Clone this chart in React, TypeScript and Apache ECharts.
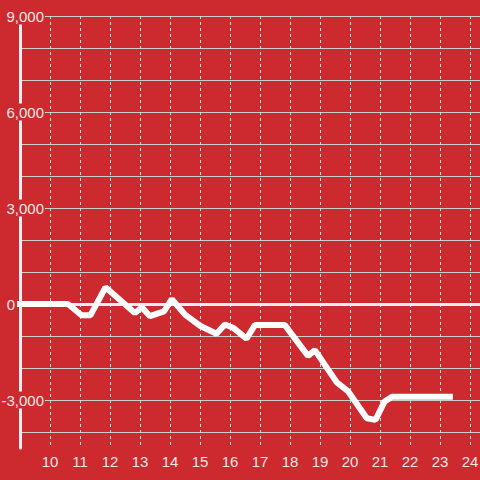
import React, { useEffect, useRef } from "react";
import * as echarts from "echarts";

const RED = "#cc2a2f";
const xValues = [9, 10.6, 11.05, 11.35, 11.85, 12.83, 13.06, 13.33, 13.8, 14.06, 14.5, 15.0, 15.55, 15.83, 16.1, 16.55, 16.83, 17.83, 18.6, 18.83, 19.56, 19.93, 20.56, 20.85, 21.15, 21.4, 23.33];
const yValues = [0, 0, -350, -350, 520, -280, -100, -380, -230, 150, -330, -680, -930, -640, -740, -1080, -660, -660, -1620, -1440, -2450, -2720, -3570, -3620, -3050, -2900, -2900];
const yLabelValues = [-3000, 3000, 6000, 9000];
const xMin = 9;
const xMax = 24.3333;
const yMin = -4500;
const yMax = 9000;

export default function App() {
  const ref = useRef<HTMLDivElement>(null);
  useEffect(() => {
    if (!ref.current) return;
    const chart = echarts.init(ref.current, null, { renderer: "svg" });
    const font = "Liberation Sans";
    chart.setOption({
      animation: false,
      backgroundColor: RED,
      grid: { left: 20, right: 0, top: 16, bottom: 32, containLabel: false, outerBoundsMode: "none" },
      xAxis: [
        {
          type: "value",
          min: xMin,
          max: xMax,
          interval: 1,
          axisLine: { show: false, onZero: false },
          axisTick: { show: false },
          splitLine: {
            show: true,
            showMinLine: false,
            showMaxLine: false,
            lineStyle: { color: "#dddddd", width: 1, type: [3, 3] },
          },
          axisLabel: {
            margin: 6,
            color: "#f6e4e4",
            fontSize: 15,
            fontFamily: font,
            formatter: (v: number) => (v >= 10 && Math.abs(v - Math.round(v)) < 1e-6 ? String(Math.round(v)) : ""),
          },
        },
        {
          type: "value",
          min: xMin,
          max: xMax,
          position: "bottom",
          axisLine: { show: true, onZero: true, lineStyle: { color: "#eeeeee", width: 3 } },
          axisTick: { show: false },
          axisLabel: { show: false },
          splitLine: { show: false },
        },
      ],
      yAxis: [
        {
          type: "value",
          min: yMin,
          max: yMax,
          interval: 500,
          z: 1,
          position: "left",
          axisLine: { show: true, onZero: false, lineStyle: { color: "#f2f2f2", width: 3 } },
          axisTick: { show: false },
          splitLine: { show: false },
          axisLabel: {
            margin: -25,
            color: "#f6e4e4",
            fontSize: 15,
            fontFamily: font,
            formatter: (v: number) => {
              if (v === 0) return "{z|0}";
              if (yLabelValues.indexOf(v) >= 0) return "{b|" + v.toLocaleString("en-US") + "}";
              return "";
            },
            rich: {
              b: { backgroundColor: RED, padding: [1, 1, 1, 4], lineHeight: 12, fontSize: 15, fontFamily: font, color: "#f6e4e4" },
              z: { padding: [0, 30, 0, 0], fontSize: 15, fontFamily: font, color: "#f6e4e4" },
            },
          },
        },
        {
          type: "value",
          min: yMin,
          max: yMax,
          interval: 500,
          z: 0,
          position: "left",
          axisLine: { show: false, onZero: false },
          axisTick: { show: false },
          axisLabel: { show: false },
          splitLine: {
            show: true,
            lineStyle: { color: ["transparent", "#cccccc"], width: 1 },
          },
        },
      ],
      series: [
        {
          type: "line",
          xAxisIndex: 0,
          yAxisIndex: 0,
          data: xValues.map((x, i) => [x, yValues[i]]),
          showSymbol: false,
          clip: false,
          z: 3,
          lineStyle: { color: "#ffffff", width: 6, cap: "square" },
        },
      ],
    });
    return () => chart.dispose();
  }, []);
  return <div ref={ref} style={{ position: "fixed", left: 0, top: 0, width: 480, height: 480 }} />;
}
